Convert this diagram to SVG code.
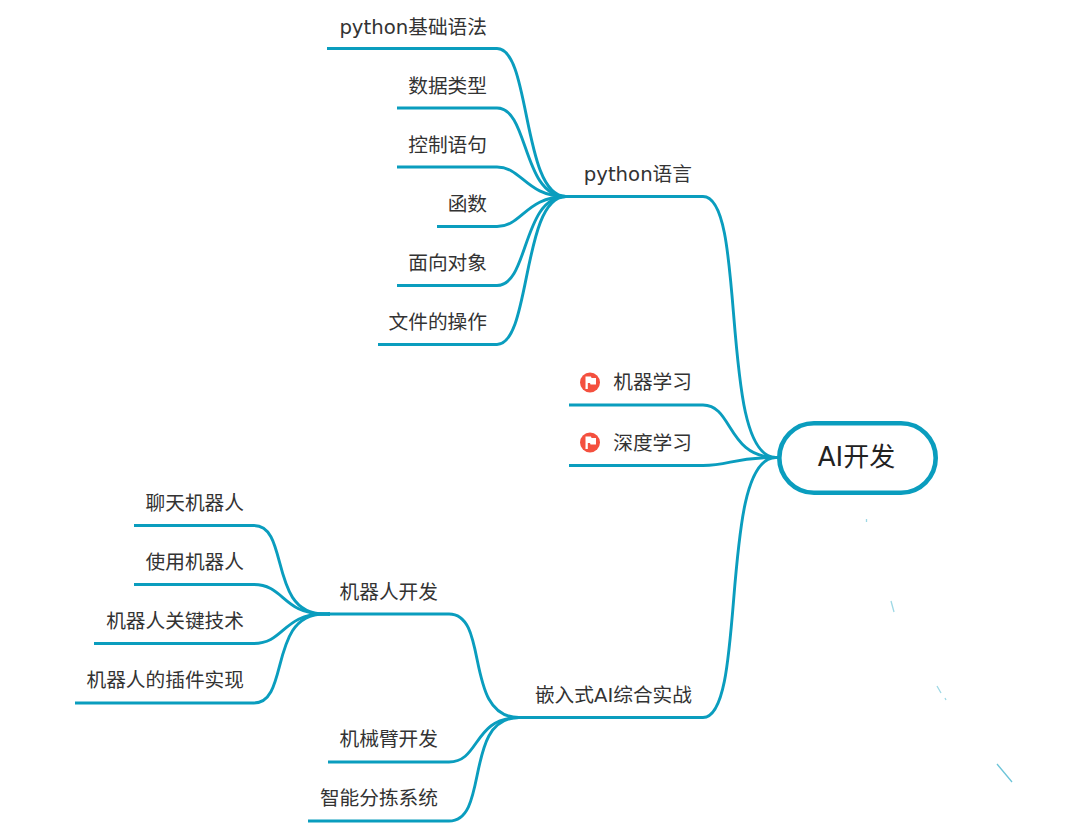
<svg xmlns="http://www.w3.org/2000/svg" width="1080" height="823" viewBox="0 0 1080 823">
<style>
text{font-family:"DejaVu Sans","Noto Sans CJK SC",sans-serif;font-size:19.7px;fill:#333;text-anchor:end}
.c{fill:none;stroke:#0a9dbe;stroke-width:2.9;stroke-linecap:butt}
.sp{fill:none;stroke:#0a9dbe;stroke-width:1.3;opacity:.4}
</style>
<defs>
<g id="flag"><circle r="10" fill="#f4503f"/><path d="M-4.5 6.5V-6H1L1.5 -4.5H6V2H0.5L0 .5H-2.2V6.5Z" fill="#fff"/></g>
</defs>
<rect width="1080" height="823" fill="#fff"/>
<g id="connectors" transform="translate(0 .5)">
<path class="c" d="M327 48H497C531 48 522 196 566 196H572"/>
<path class="c" d="M397 107.500H497C529 107.500 522 196 566 196H572"/>
<path class="c" d="M397 166.500H497C522 166.500 526 196 566 196H572"/>
<path class="c" d="M437 226H497C522 226 526 196 566 196H572"/>
<path class="c" d="M397 285H497C529 285 522 196 566 196H572"/>
<path class="c" d="M378 344H497C531 344 522 196 566 196H572"/>
<path class="c" d="M570 196H703C748 196 718 457 776 457H780"/>
<path class="c" d="M569 404.500H703C733 404.500 727 457 776 457H780"/>
<path class="c" d="M569 465H703C730 465 733 457 776 457H780"/>
<path class="c" d="M523 717H703C748 717 718 457 776 457H780"/>
<path class="c" d="M328 613.500H449C490 613.500 463 717 519 717H525"/>
<path class="c" d="M328 761.500H449C480 761.500 473 717 519 717H525"/>
<path class="c" d="M308 820.500H449C490 820.500 463 717 519 717H525"/>
<path class="c" d="M134 525H254C290 525 268 613.500 324 613.500H330"/>
<path class="c" d="M134 584H254C284 584 283 613.500 324 613.500H330"/>
<path class="c" d="M94 643H254C284 643 283 613.500 324 613.500H330"/>
<path class="c" d="M75 702.500H254C290 702.500 268 613.500 324 613.500H330"/>
</g>
<g id="root"><rect x="779.300" y="423.300" width="156.400" height="69.400" rx="34.700" fill="#fff" stroke="#0a9dbe" stroke-width="4.600"/><text x="856.500" y="466" style="text-anchor:middle;font-size:26px;fill:#222">AI开发</text></g>
<g id="n-python"><text x="692" y="181">python语言</text></g>
<g id="n-basic"><text x="487" y="34">python基础语法</text></g>
<g id="n-types"><text x="487" y="93">数据类型</text></g>
<g id="n-control"><text x="487" y="152">控制语句</text></g>
<g id="n-func"><text x="487" y="211">函数</text></g>
<g id="n-oop"><text x="487" y="270">面向对象</text></g>
<g id="n-file"><text x="487" y="329">文件的操作</text></g>
<g id="n-ml"><use href="#flag" x="590" y="382.500"/><text x="692" y="389">机器学习</text></g>
<g id="n-dl"><use href="#flag" x="590" y="442.500"/><text x="692" y="450">深度学习</text></g>
<g id="n-embedded"><text x="692" y="702">嵌入式AI综合实战</text></g>
<g id="n-robot"><text x="438" y="599">机器人开发</text></g>
<g id="n-arm"><text x="438" y="746">机械臂开发</text></g>
<g id="n-sort"><text x="438" y="805">智能分拣系统</text></g>
<g id="n-chat"><text x="244" y="510">聊天机器人</text></g>
<g id="n-use"><text x="244" y="569">使用机器人</text></g>
<g id="n-key"><text x="244" y="628">机器人关键技术</text></g>
<g id="n-plugin"><text x="244" y="687">机器人的插件实现</text></g>
<g id="specks"><path class="sp" d="M866.500 519V522M891 601L894 612M937 686L941 693M945 698L946 700"/><path fill="none" stroke="#0a9dbe" stroke-width="1.300" opacity=".6" d="M997 764L1012 782"/></g>
</svg>
